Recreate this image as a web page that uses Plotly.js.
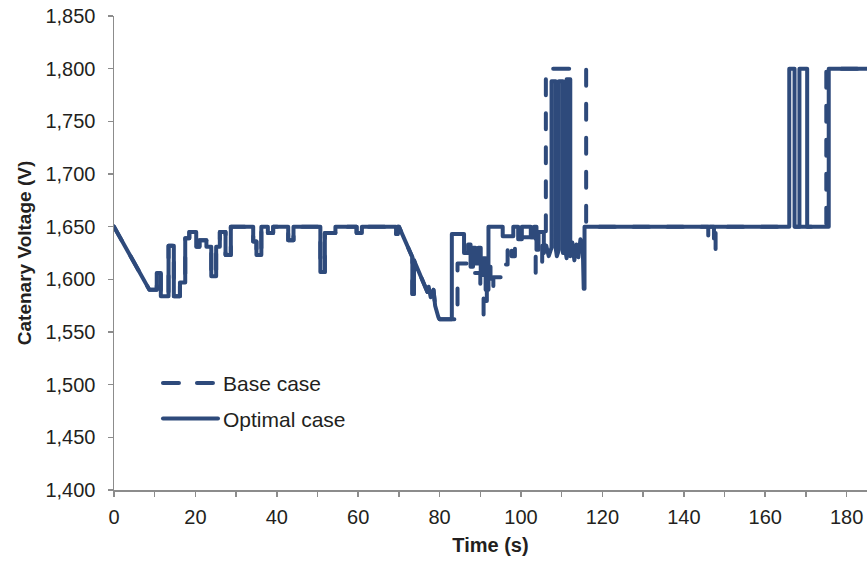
<!DOCTYPE html>
<html>
<head>
<meta charset="utf-8">
<script src="https://cdn.plot.ly/plotly-3.0.1.min.js"></script>
<style>
html,body{margin:0;padding:0;background:#fff;}
#chart{width:867px;height:561px;}
#chart .js-line{stroke-linejoin:round;stroke-linecap:round;}
#chart .legendlines path{stroke-linecap:round;}
</style>
</head>
<body>
<div id="chart"></div>
<script>
// ---- data (time in s, catenary voltage in V) ----
// shared segment: both cases coincide from 0 s to 80 s
const commonTime = [0, 8.7, 10.5, 10.5, 11.5, 11.5, 13.4, 13.4, 14.7, 14.7, 16.2, 16.2, 17.5, 17.5, 18.5, 18.5, 20.2, 20.2, 21.0, 21.0, 22.7, 22.7, 23.9, 23.9, 25.1, 25.1, 26.0, 26.0, 27.4, 27.4, 28.7, 28.7, 34.2, 34.2, 35.0, 35.0, 36.2, 36.2, 37.8, 37.8, 39.1, 39.1, 42.8, 42.8, 44.1, 44.1, 50.7, 50.7, 51.8, 51.8, 54.4, 54.4, 59.6, 59.6, 60.9, 60.9, 69.3, 69.3, 69.7, 69.7, 70.0, 73.3, 73.3, 73.7, 73.7, 77.0, 77.3, 77.8, 78.5, 78.9, 79.7, 80.0];
const commonVolt = [1650, 1590, 1590, 1606, 1606, 1584, 1584, 1632, 1632, 1584, 1584, 1597, 1597, 1639, 1639, 1645, 1645, 1631, 1631, 1637, 1637, 1631, 1631, 1603, 1603, 1631, 1631, 1645, 1645, 1623, 1623, 1650, 1650, 1636, 1636, 1623, 1623, 1650, 1650, 1644, 1644, 1650, 1650, 1637, 1637, 1650, 1650, 1607, 1607, 1644, 1644, 1650, 1650, 1644, 1644, 1650, 1650, 1643, 1643, 1650, 1650, 1621, 1586, 1586, 1618, 1588, 1593, 1583, 1590, 1575, 1564, 1562];

// Optimal case after 80 s
const optimalTime = [83.0, 83.0, 86.0, 86.0, 87.0, 87.0, 87.6, 87.6, 88.2, 88.2, 88.8, 88.8, 89.5, 89.5, 90.1, 90.1, 90.7, 90.7, 91.3, 91.3, 92.0, 92.0, 95.5, 95.5, 98.1, 98.1, 99.3, 99.3, 100.2, 100.2, 102.4, 102.4, 103.2, 103.2, 103.8, 103.8, 104.3, 104.3, 105.6, 105.6, 106.2, 106.8, 107.5, 107.5, 108.5, 108.5, 108.8, 109.3, 109.3, 110.3, 110.3, 110.7, 111.2, 111.2, 112.1, 112.1, 112.6, 113.1, 113.6, 114.1, 114.6, 115.2, 115.4, 115.6, 115.6, 165.9, 165.9, 167.2, 167.2, 168.4, 168.4, 170.3, 170.3, 175.6, 175.6, 186];
const optimalVolt = [1562, 1643, 1643, 1625, 1625, 1633, 1633, 1612, 1612, 1630, 1630, 1615, 1615, 1630, 1630, 1604, 1604, 1620, 1620, 1590, 1590, 1650, 1650, 1641, 1641, 1650, 1650, 1638, 1638, 1650, 1650, 1640, 1640, 1650, 1650, 1628, 1628, 1645, 1645, 1625, 1632, 1622, 1630, 1788, 1788, 1630, 1622, 1628, 1788, 1788, 1625, 1632, 1620, 1790, 1790, 1622, 1635, 1618, 1633, 1621, 1638, 1625, 1591, 1591, 1650, 1650, 1800, 1800, 1650, 1650, 1800, 1800, 1650, 1650, 1800, 1800];

// Base case after 80 s
const baseTime = [84.4, 84.4, 87.9, 87.9, 90.0, 90.0, 90.8, 90.8, 91.6, 91.6, 92.5, 92.5, 93.2, 93.2, 95.0, 95.0, 96.7, 96.7, 97.7, 97.7, 98.5, 98.5, 103.6, 103.6, 105.2, 105.2, 106.1, 106.1, 116.0, 116.0, 146.0, 146.0, 146.4, 146.4, 147.4, 147.4, 147.8, 147.8, 175.0, 175.0, 186];
const baseVolt = [1562, 1615, 1615, 1606, 1606, 1588, 1588, 1566, 1566, 1612, 1612, 1590, 1590, 1602, 1602, 1614, 1614, 1634, 1634, 1622, 1622, 1640, 1640, 1606, 1606, 1640, 1640, 1800, 1800, 1650, 1650, 1638, 1638, 1650, 1650, 1626, 1626, 1650, 1650, 1800, 1800];

const seriesNames = ['Base case', 'Optimal case'];

const lineColor = '#2e4a7b';
const fontFam = '"Liberation Sans", Arial, Helvetica, sans-serif';
const textColor = '#231f20';
const axisColor = '#8c8c8c';

const traces = [
  {
    x: commonTime.concat(baseTime),
    y: commonVolt.concat(baseVolt),
    name: seriesNames[0],
    legendgroup: 'g1',
    mode: 'lines',
    line: {color: lineColor, width: 4, dash: '16px,18px'},
    hoverinfo: 'x+y+name'
  },
  {
    x: commonTime.concat(optimalTime),
    y: commonVolt.concat(optimalVolt),
    name: seriesNames[1],
    legendgroup: 'g2',
    mode: 'lines',
    line: {color: lineColor, width: 4},
    hoverinfo: 'x+y+name'
  }
];

const layout = {
  width: 867,
  height: 561,
  margin: {l: 114, r: 0, t: 16, b: 71, pad: 0},
  paper_bgcolor: '#ffffff',
  plot_bgcolor: '#ffffff',
  font: {family: fontFam, size: 20, color: textColor},
  showlegend: true,
  legend: {
    x: 0.0584, y: 0.268, xanchor: 'left', yanchor: 'top',
    bgcolor: 'rgba(0,0,0,0)',
    font: {family: fontFam, size: 21, color: textColor},
    tracegroupgap: 5,
    itemwidth: 55
  },
  xaxis: {
    range: [0, 185],
    tick0: 0, dtick: 20,
    ticks: 'outside', ticklen: 5, tickwidth: 1.5, tickcolor: axisColor,
    minor: {dtick: 10, ticks: 'outside', ticklen: 5, tickwidth: 1.5, tickcolor: axisColor},
    showline: true, linecolor: axisColor, linewidth: 1.5,
    showgrid: false, zeroline: false,
    tickfont: {family: fontFam, size: 20, color: textColor},
    ticklabelstandoff: 3,
    title: {text: 'Time (s)', font: {family: fontFam, size: 20, color: textColor, weight: 'bold'}, standoff: 11}
  },
  yaxis: {
    range: [1400, 1850],
    tick0: 1400, dtick: 50,
    tickformat: ',d',
    ticks: 'outside', ticklen: 5, tickwidth: 1.5, tickcolor: axisColor,
    showline: true, linecolor: axisColor, linewidth: 1.5,
    showgrid: false, zeroline: false,
    tickfont: {family: fontFam, size: 20, color: textColor},
    ticklabelstandoff: 8,
    title: {text: 'Catenary Voltage (V)', font: {family: fontFam, size: 19, color: textColor, weight: 'bold'}, standoff: 9}
  }
};

Plotly.newPlot('chart', traces, layout, {displayModeBar: false, staticPlot: true});
</script>
</body>
</html>
